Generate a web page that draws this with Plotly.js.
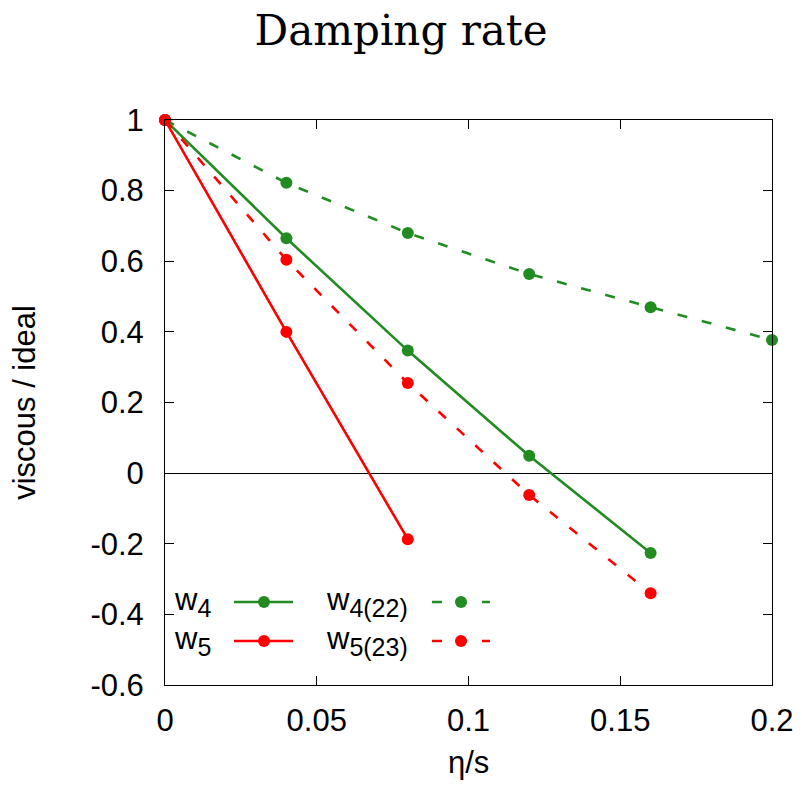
<!DOCTYPE html>
<html>
<head>
<meta charset="utf-8">
<script src="https://cdn.plot.ly/plotly-3.0.1.min.js"></script>
<style>html,body{margin:0;padding:0;background:#fff;}</style>
</head>
<body>
<div id="chart" style="width:802px;height:786px;"></div>
<script>
// eta/s values
const etaW4 = [0, 0.04, 0.08, 0.12, 0.16];
const w4 = [1, 0.665, 0.347, 0.049, -0.226];
const etaW5 = [0, 0.04, 0.08];
const w5 = [1, 0.40, -0.187];
const etaW422 = [0, 0.04, 0.08, 0.12, 0.16, 0.20];
const w422 = [1, 0.822, 0.680, 0.564, 0.470, 0.377];
const etaW523 = [0, 0.04, 0.08, 0.12, 0.16];
const w523 = [1, 0.604, 0.255, -0.062, -0.340];

const xTickVals = [0, 0.05, 0.1, 0.15, 0.2];
const xTickText = ["0", "0.05", "0.1", "0.15", "0.2"];
const yTickVals = [-0.6, -0.4, -0.2, 0, 0.2, 0.4, 0.6, 0.8, 1];
const yTickText = ["-0.6", "-0.4", "-0.2", "0", "0.2", "0.4", "0.6", "0.8", "1"];

const green = "#228b22";
const red = "#ff0000";
const DASH = "10px,15px";
const SANS = "Liberation Sans, Arial, Helvetica, sans-serif";

function tr(x, y, color, dash, name) {
  return {
    x: x, y: y, type: "scatter", mode: "lines+markers", name: name,
    line: {color: color, width: 2.6, dash: dash},
    marker: {color: color, size: 12},
    cliponaxis: false, showlegend: false
  };
}

const data = [
  tr(etaW422, w422, green, DASH, "w4(22)"),
  tr(etaW4, w4, green, "solid", "w4"),
  tr(etaW5, w5, red, "solid", "w5"),
  tr(etaW523, w523, red, DASH, "w5(23)")
];

// legend helpers (paper coords)
const L = 165, R = 772, T = 120, B = 685;
const px = v => (v - L) / (R - L);
const py = v => (B - v) / (B - T);

const sub = s => "w<sub><span style=\"font-size:25px\">" + s + "</span></sub>";
const legendRows = [
  {label: sub("4"), color: green, dash: "solid", x0: 234, x1: 293, xm: 264, y: 602, tx: 213},
  {label: sub("5"), color: red, dash: "solid", x0: 234, x1: 293, xm: 264, y: 641, tx: 213},
  {label: sub("4(22)"), color: green, dash: "dash", x0: 432, x1: 490, xm: 461, y: 602, tx: 410},
  {label: sub("5(23)"), color: red, dash: "dash", x0: 432, x1: 490, xm: 461, y: 641, tx: 410}
];

const shapes = [];
const annotations = [];
legendRows.forEach(r => {
  shapes.push({type: "line", xref: "paper", yref: "paper",
    x0: px(r.x0), x1: px(r.x1), y0: py(r.y), y1: py(r.y),
    line: {color: r.color, width: 2.6, dash: r.dash === "dash" ? DASH : "solid"}});
  shapes.push({type: "circle", xref: "paper", yref: "paper",
    xsizemode: "pixel", ysizemode: "pixel",
    xanchor: px(r.xm), yanchor: py(r.y), x0: -6, x1: 6, y0: -6, y1: 6,
    fillcolor: r.color, line: {color: r.color, width: 0}});
  annotations.push({xref: "paper", yref: "paper", x: px(r.tx), y: py(r.y),
    xanchor: "right", yanchor: "middle", text: r.label, showarrow: false,
    font: {family: SANS, size: 31, color: "#000"}});
});

// x-axis title as annotation for precise placement
annotations.push({xref: "paper", yref: "paper", x: 0.5, y: py(762),
  xanchor: "center", yanchor: "middle", text: "η/s", showarrow: false,
  font: {family: SANS, size: 31, color: "#000"}});

const layout = {
  width: 802, height: 786,
  margin: {l: L, r: 802 - R, t: T, b: 786 - B, pad: 0},
  paper_bgcolor: "#fff", plot_bgcolor: "#fff",
  font: {family: SANS, size: 31, color: "#000"},
  title: {text: "Damping rate", x: 0.5, xanchor: "center", y: 0.962, yanchor: "middle",
    font: {family: "DejaVu Serif, Liberation Serif, serif", size: 42, color: "#000"}},
  xaxis: {
    range: [0, 0.2], tickvals: xTickVals, ticktext: xTickText,
    ticks: "inside", ticklen: 9, tickcolor: "#000", tickwidth: 1,
    showline: true, linecolor: "#000", linewidth: 1, mirror: "ticks",
    showgrid: false, zeroline: false, ticklabelstandoff: 8,
    tickfont: {size: 31}
  },
  yaxis: {
    range: [-0.6, 1], tickvals: yTickVals, ticktext: yTickText,
    ticks: "inside", ticklen: 9, tickcolor: "#000", tickwidth: 1,
    showline: true, linecolor: "#000", linewidth: 1, mirror: "ticks",
    showgrid: false, zeroline: true, zerolinecolor: "#000", zerolinewidth: 1,
    ticklabelstandoff: 14,
    tickfont: {size: 31},
    title: {text: "viscous / ideal", standoff: 45, font: {size: 31}}
  },
  shapes: shapes,
  annotations: annotations,
  showlegend: false
};

Plotly.newPlot("chart", data, layout, {displayModeBar: false, staticPlot: true});
</script>
</body>
</html>
